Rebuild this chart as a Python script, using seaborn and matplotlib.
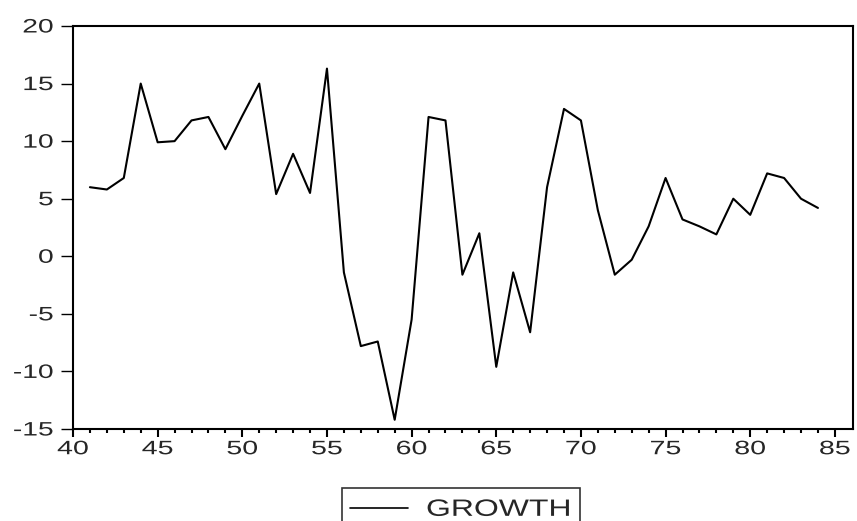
import numpy as np
import pandas as pd
import seaborn as sns
import matplotlib.pyplot as plt
from matplotlib.patheffects import AbstractPathEffect
from matplotlib.transforms import Affine2D

# Annual growth series
years = list(range(41, 85))
growth = [6.0, 5.8, 6.8, 15.0, 9.9, 10.0, 11.8, 12.1, 9.3, 12.2,
          15.0, 5.4, 8.9, 5.5, 16.3, -1.4, -7.8, -7.4, -14.2, -5.5,
          12.1, 11.8, -1.6, 2.0, -9.6, -1.4, -6.6, 6.0, 12.8, 11.8,
          4.0, -1.6, -0.3, 2.6, 6.8, 3.2, 2.6, 1.9, 5.0, 3.6,
          7.2, 6.8, 5.0, 4.2]
x_ticks = [40, 45, 50, 55, 60, 65, 70, 75, 80, 85]
y_ticks = [-15, -10, -5, 0, 5, 10, 15, 20]

df = pd.DataFrame({'year': years, 'GROWTH': growth})


# the reference text is drawn wide (horizontally stretched), mimic that
class Stretch(AbstractPathEffect):
    def __init__(self, sx=1.0, sy=1.0, ha='center'):
        super().__init__()
        self.sx, self.sy, self.ha = sx, sy, ha

    def draw_path(self, renderer, gc, tpath, affine, rgbFace=None):
        ext = tpath.get_extents(affine)
        if self.ha == 'left':
            cx = ext.x0
        elif self.ha == 'right':
            cx = ext.x1
        else:
            cx = (ext.x0 + ext.x1) / 2
        cy = (ext.y0 + ext.y1) / 2
        t = affine + Affine2D().translate(-cx, -cy).scale(self.sx, self.sy).translate(cx, cy)
        renderer.draw_path(gc, tpath, t, rgbFace)


sns.set_style("ticks")
plt.rcParams['font.family'] = ['Liberation Sans', 'DejaVu Sans']
plt.rcParams['axes.unicode_minus'] = False

fig = plt.figure(figsize=(8.57, 5.21), dpi=100)
ax = fig.add_axes([73/857, 1 - 429/521, 780/857, 403/521])

sns.lineplot(data=df, x='year', y='GROWTH', color='black', linewidth=1.5,
             ax=ax, legend=False)

ax.set_xlim(40, 86.07)
ax.set_ylim(-15, 20)
ax.set_xticks(x_ticks)
ax.set_xticks(range(40, 86), minor=True)
ax.set_yticks(y_ticks)
ax.set_xlabel('')
ax.set_ylabel('')
ax.tick_params(axis='x', which='major', labelsize=14, color='black',
               width=1.5, length=5.8, pad=3)
ax.tick_params(axis='x', which='minor', length=2.9, width=1.5, color='black')
ax.tick_params(axis='y', which='major', labelsize=14, color='black',
               width=1.0, length=8.6, pad=5.5)
for s in ax.spines.values():
    s.set_linewidth(1.5)
    s.set_color('black')

fig.canvas.draw()
for lab in ax.get_xticklabels():
    lab.set_path_effects([Stretch(sx=1.47, ha='center')])
for lab in ax.get_yticklabels():
    lab.set_path_effects([Stretch(sx=1.45, ha='right')])

leg = fig.legend(['GROWTH'], loc='upper left',
                 bbox_to_anchor=(342/857, 1 - 487.7/521),
                 frameon=True, fancybox=False, fontsize=23,
                 handlelength=1.82, handletextpad=0.56,
                 borderpad=0.25, borderaxespad=0)
leg.get_frame().set_edgecolor('black')
leg.get_frame().set_linewidth(1.2)
leg.legend_handles[0].set_color('black')
leg.legend_handles[0].set_linewidth(1.2)
leg.get_texts()[0].set_path_effects([Stretch(sy=1/1.35, ha='left')])

fig.savefig('out.png', dpi=100)
